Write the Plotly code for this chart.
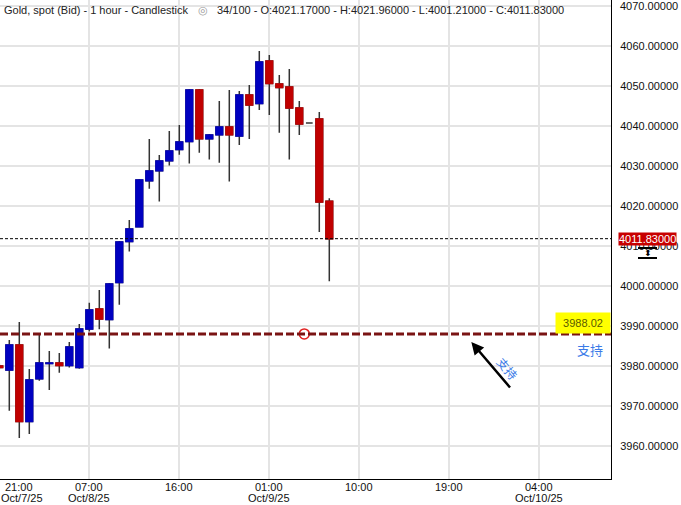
import numpy as np
import plotly.graph_objects as go

# hourly bars, index 0 = first full bar on screen (Oct 7, 20:00)
bar_index = list(range(-1, 33))
opens = [3980.0, 3979.0, 3985.25, 3966.1, 3976.8, 3980.6, 3980.75, 3980.1, 3979.6, 3989.25,
         3994.25, 3991.6, 4000.9, 4011.1, 4014.8, 4026.3, 4028.8, 4031.3, 4034.1, 4036.1,
         4049.0, 4036.8, 4037.8, 4039.75, 4037.5, 4047.75, 4045.6, 4056.25, 4050.5, 4049.75,
         4044.5, 4040.75, 4041.75, 4021.17]
highs = [3980.6, 3986.5, 3991.0, 3979.25, 3987.75, 3983.75, 3983.25, 3986.0, 3990.5, 3995.8,
         3999.0, 4000.75, 4011.25, 4016.5, 4026.75, 4036.75, 4032.75, 4038.75, 4040.25, 4049.25,
         4049.25, 4038.0, 4046.25, 4049.0, 4048.75, 4050.25, 4058.75, 4057.75, 4052.75, 4054.25,
         4046.25, 4040.75, 4043.5, 4021.96]
lows = [3979.2, 3968.8, 3962.0, 3963.0, 3976.3, 3974.0, 3978.3, 3979.6, 3979.3, 3988.6,
        3989.2, 3984.4, 3995.3, 4008.6, 4014.6, 4024.3, 4021.1, 4030.1, 4032.8, 4030.6,
        4033.3, 4031.6, 4030.8, 4026.1, 4035.25, 4036.75, 4044.0, 4042.75, 4038.3, 4031.6,
        4037.75, 4040.75, 4013.5, 4001.21]
closes = [3979.6, 3985.25, 3966.1, 3976.5, 3980.75, 3980.75, 3980.1, 3984.75, 3989.25, 3994.0,
          3991.75, 4000.5, 4011.0, 4014.25, 4026.5, 4028.75, 4031.25, 4033.75, 4036.0, 4049.0,
          4036.8, 4037.75, 4039.75, 4037.8, 4047.75, 4045.25, 4056.0, 4050.6, 4049.6, 4044.5,
          4040.5, 4040.75, 4021.0, 4011.83]

# time labels (bar index -> text); gridlines fall on every 9th bar
time_index = [1, 8, 17, 26, 35, 44, 53]
time_text = ["21:00", "07:00", "16:00", "01:00", "10:00", "19:00", "04:00"]
grid_index = [8, 17, 26, 35, 44, 53]
date_index = [1, 8, 26, 53]
date_text = ["Oct/7/25", "Oct/8/25", "Oct/9/25", "Oct/10/25"]
price_ticks = list(range(3950, 4080, 10))

support_level = 3988.02
alert_index = 29.5
arrow_head = (46.2, 3986.0)
last_close = closes[-1]

BLUE = "#0000c0"
RED = "#c00000"
WICK = "#333333"
GRID = "#e4e4e4"
Y_RANGE = [3951.75, 4071.5]

o = np.array(opens)
c = np.array(closes)
# bodies only (no wick); skip the flat doji so it stays black
body_hi = np.where(o == c, np.nan, np.maximum(o, c))
body_lo = np.where(o == c, np.nan, np.minimum(o, c))
body_o = np.where(o == c, np.nan, o)
body_c = np.where(o == c, np.nan, c)

fig = go.Figure()
fig.add_trace(go.Candlestick(
    x=bar_index, open=opens, high=highs, low=lows, close=closes,
    increasing=dict(line=dict(color=WICK, width=1.5), fillcolor=WICK),
    decreasing=dict(line=dict(color=WICK, width=1.5), fillcolor=WICK),
    whiskerwidth=0, hoverinfo="skip", showlegend=False,
))
fig.add_trace(go.Candlestick(
    x=bar_index, open=body_o, high=body_hi, low=body_lo, close=body_c,
    increasing=dict(line=dict(color=BLUE, width=1.5), fillcolor=BLUE),
    decreasing=dict(line=dict(color=RED, width=1.5), fillcolor=RED),
    whiskerwidth=0, hoverinfo="skip", showlegend=False,
))
fig.add_trace(go.Scatter(
    x=[alert_index], y=[support_level], mode="markers",
    marker=dict(symbol="circle-open", size=10, color="#e02020", line=dict(width=1.5)),
    hoverinfo="skip", showlegend=False,
))

fig.add_hline(y=last_close, line=dict(color="black", width=1, dash="3px,2px"))
fig.add_hline(y=support_level, line=dict(color="#7a1414", width=3, dash="8px,3px"))

font = "Liberation Sans, Arial, sans-serif"
narrow = "Liberation Sans Narrow, Arial Narrow, Liberation Sans, sans-serif"

fig.update_layout(
    width=681, height=505,
    margin=dict(l=0, r=70, t=0, b=26, autoexpand=False),
    paper_bgcolor="white", plot_bgcolor="white",
    boxgap=0.33, boxgroupgap=0,
    showlegend=False,
    font=dict(family=font, size=11, color="#111111"),
    xaxis=dict(
        range=[-0.93, 60.17], rangeslider=dict(visible=False), automargin=False,
        tickmode="array", tickvals=grid_index, ticktext=[""] * len(grid_index),
        showgrid=True, gridcolor=GRID, gridwidth=1.5, zeroline=False,
        showline=True, linecolor="black", linewidth=1, ticks="",
    ),
    yaxis=dict(
        side="right", range=Y_RANGE, automargin=False,
        tickmode="array", tickvals=price_ticks,
        ticktext=[f"{p:.5f}" for p in price_ticks],
        tickfont=dict(family=font, size=11, color="#111111"),
        showgrid=True, gridcolor=GRID, gridwidth=1.5, zeroline=False,
        showline=True, linecolor="black", linewidth=1, ticks="", ticklabelstandoff=6,
    ),
)

# x labels: time line and date line
for xi, t in zip(time_index, time_text):
    fig.add_annotation(x=xi, y=0, xref="x", yref="paper", yanchor="top", yshift=-1,
                       text=t, showarrow=False, borderpad=0,
                       font=dict(family=narrow, size=11, color="#111111"))
for xi, t in zip(date_index, date_text):
    fig.add_annotation(x=xi, y=0, xref="x", yref="paper", yanchor="top", yshift=-12,
                       xshift=3 if xi == date_index[0] else 0,
                       text=t, showarrow=False, borderpad=0,
                       font=dict(family=narrow, size=11, color="#111111"))

# price labels that fall just outside the plotted range
for p in (price_ticks[0], price_ticks[-1]):
    fig.add_annotation(x=1, y=p, xref="paper", yref="y", xanchor="left", yanchor="middle",
                       xshift=8, showarrow=False, text=f"{p:.5f}", borderpad=0,
                       font=dict(family=font, size=11, color="#111111"))

fig.add_annotation(x=0, y=1, xref="paper", yref="paper", xanchor="left", yanchor="top",
                   xshift=2, yshift=-2, showarrow=False,
                   text="Gold, spot (Bid) - 1 hour - Candlestick",
                   font=dict(family=font, size=11, color="#222222"))
fig.add_annotation(x=203 / 611, y=1, xref="paper", yref="paper", xanchor="center", yanchor="top",
                   yshift=-2, showarrow=False, text="◎",
                   font=dict(family=font, size=11, color="#999999"))
fig.add_annotation(x=215 / 611, y=1, xref="paper", yref="paper", xanchor="left", yanchor="top",
                   yshift=-2, showarrow=False,
                   text="34/100 - O:4021.17000 - H:4021.96000 - L:4001.21000 - C:4011.83000",
                   font=dict(family=font, size=11, color="#222222"))
fig.add_annotation(x=1, y=last_close, xref="paper", yref="y", xanchor="left", yanchor="middle",
                   xshift=7, showarrow=False, text=f"{last_close:.5f}", bgcolor="#c80000",
                   borderpad=0, font=dict(family=font, size=11, color="white"))

# small scale handle under the price box
for ypx in (248, 258):
    fig.add_shape(type="line", xref="paper", yref="paper",
                  x0=638 / 611, x1=657 / 611, y0=1 - ypx / 479, y1=1 - ypx / 479,
                  line=dict(color="black", width=2))
fig.add_annotation(x=647.5 / 611, y=1 - 253 / 479, xref="paper", yref="paper",
                   xanchor="center", yanchor="middle", showarrow=False, text="⬍",
                   font=dict(family="DejaVu Sans", size=9, color="black"))

fig.add_annotation(x=1, y=support_level, xref="paper", yref="y", xanchor="right", yanchor="bottom",
                   showarrow=False, text=f"{support_level:.2f}", bgcolor="#ffff00",
                   width=50, height=16, borderpad=2,
                   font=dict(family=font, size=11, color="#5a5a00"))
fig.add_annotation(x=590 / 611, y=support_level, xref="paper", yref="y", xanchor="center",
                   yanchor="top", yshift=-4, showarrow=False, text="支持",
                   font=dict(family="Noto Sans CJK SC", size=13, color="#3b7be8"))
fig.add_annotation(x=arrow_head[0], y=arrow_head[1], xref="x", yref="y", ax=40, ay=47,
                   text="", showarrow=True, arrowhead=2, arrowsize=1, arrowwidth=2.5,
                   arrowcolor="black")
fig.add_annotation(x=arrow_head[0] + 3.7, y=arrow_head[1] - 6.5, xref="x", yref="y",
                   showarrow=False, text="支持", textangle=50,
                   font=dict(family="Noto Sans CJK SC", size=12, color="#3b7be8"))

fig.write_html("out.html", config={"displayModeBar": False},
               post_script="document.body.style.margin='0px';")
